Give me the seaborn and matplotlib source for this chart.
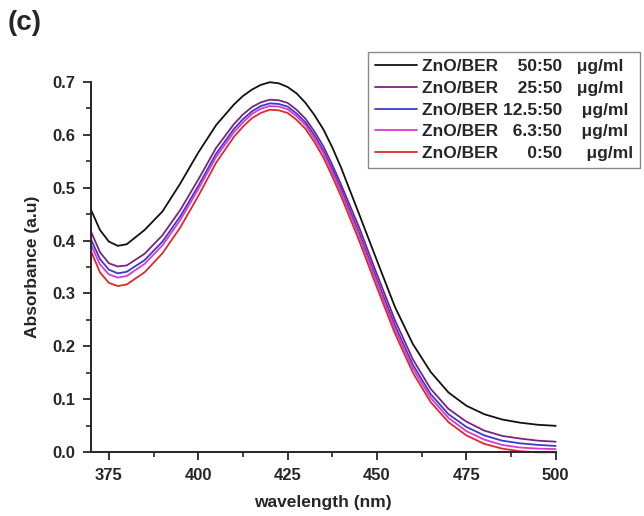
import matplotlib
matplotlib.use("Agg")
import matplotlib.pyplot as plt
import seaborn as sns
import pandas as pd
from matplotlib.ticker import MultipleLocator

wavelength = [370, 372.5, 375, 377.5, 380, 385, 390, 395, 400, 405, 410, 412.5, 415, 417.5,
              420, 422.5, 425, 427.5, 430, 432.5, 435, 437.5, 440, 445, 450, 455, 460, 465,
              470, 475, 480, 485, 490, 495, 500]

abs_50 = [0.458, 0.420, 0.398, 0.390, 0.393, 0.420, 0.455, 0.508, 0.566, 0.618, 0.657, 0.673,
          0.685, 0.694, 0.699, 0.697, 0.690, 0.678, 0.660, 0.637, 0.610, 0.576, 0.537, 0.450,
          0.362, 0.275, 0.205, 0.152, 0.113, 0.088, 0.072, 0.062, 0.056, 0.052, 0.050]
abs_25 = [0.417, 0.378, 0.357, 0.351, 0.353, 0.375, 0.410, 0.458, 0.515, 0.575, 0.620, 0.638,
          0.652, 0.661, 0.666, 0.665, 0.660, 0.647, 0.630, 0.606, 0.578, 0.543, 0.505, 0.425,
          0.336, 0.250, 0.176, 0.120, 0.082, 0.058, 0.041, 0.031, 0.026, 0.022, 0.020]
abs_125 = [0.402, 0.365, 0.345, 0.338, 0.341, 0.363, 0.398, 0.446, 0.503, 0.564, 0.611, 0.629,
           0.644, 0.654, 0.659, 0.658, 0.653, 0.640, 0.623, 0.599, 0.570, 0.535, 0.497, 0.415,
           0.326, 0.240, 0.166, 0.110, 0.072, 0.048, 0.032, 0.022, 0.017, 0.014, 0.012]
abs_63 = [0.392, 0.355, 0.336, 0.330, 0.333, 0.356, 0.391, 0.439, 0.497, 0.558, 0.605, 0.623,
          0.639, 0.649, 0.654, 0.653, 0.648, 0.635, 0.618, 0.593, 0.565, 0.529, 0.491, 0.409,
          0.320, 0.233, 0.159, 0.103, 0.065, 0.040, 0.024, 0.014, 0.009, 0.007, 0.006]
abs_0 = [0.380, 0.340, 0.320, 0.314, 0.317, 0.340, 0.376, 0.425, 0.484, 0.547, 0.596, 0.615,
         0.631, 0.641, 0.647, 0.646, 0.641, 0.628, 0.611, 0.586, 0.557, 0.521, 0.483, 0.400,
         0.311, 0.225, 0.151, 0.095, 0.057, 0.032, 0.016, 0.007, 0.002, 0.000, 0.000]

labels = ["ZnO/BER    50:50   \u03bcg/ml",
          "ZnO/BER    25:50   \u03bcg/ml",
          "ZnO/BER 12.5:50    \u03bcg/ml",
          "ZnO/BER   6.3:50    \u03bcg/ml",
          "ZnO/BER      0:50     \u03bcg/ml"]
series = [abs_50, abs_25, abs_125, abs_63, abs_0]
colors = ["#111111", "#7a2480", "#3a3ad0", "#d63ad6", "#e02828"]

x_ticks = [375, 400, 425, 450, 475, 500]
y_ticks = [0.0, 0.1, 0.2, 0.3, 0.4, 0.5, 0.6, 0.7]

rows = []
for lab, vals in zip(labels, series):
    for w, a in zip(wavelength, vals):
        rows.append({"wavelength": w, "absorbance": a, "sample": lab})
df = pd.DataFrame(rows)

sns.set_style("ticks")
plt.rcParams["font.family"] = ["Liberation Sans", "DejaVu Sans"]
plt.rcParams["font.weight"] = "bold"

fig = plt.figure(figsize=(6.44, 5.16), dpi=100)
ax = fig.add_axes([91 / 644, 1 - 452.3 / 516, (555.7 - 91) / 644, (452.3 - 81.7) / 516])

sns.lineplot(data=df, x="wavelength", y="absorbance", hue="sample", hue_order=labels,
             palette=colors, linewidth=1.3, sort=False, ax=ax, legend=True)
for ln in ax.get_lines():
    ln.set_clip_on(False)
    ln.set_solid_joinstyle("round")

handles, labs = ax.get_legend_handles_labels()
ax.get_legend().remove()

ax.set_xlim(370, 500)
ax.set_ylim(0, 0.7)
ax.set_xticks(x_ticks)
ax.set_yticks(y_ticks)
ax.set_yticklabels([f"{v:.1f}" for v in y_ticks])
ax.xaxis.set_minor_locator(MultipleLocator(12.5))
ax.yaxis.set_minor_locator(MultipleLocator(0.05))
ax.tick_params(which="major", direction="out", length=6, width=1.3, labelsize=12, pad=5)
ax.tick_params(which="minor", direction="out", length=3.5, width=1.2)
for lab in ax.get_xticklabels() + ax.get_yticklabels():
    lab.set_fontweight("bold")
sns.despine(ax=ax)
for s in ["left", "bottom"]:
    ax.spines[s].set_linewidth(1.4)

ax.set_xlabel("wavelength (nm)", fontsize=12.5, fontweight="bold", labelpad=9)
ax.set_ylabel("Absorbance (a.u)", fontsize=12.5, fontweight="bold", labelpad=9)

leg = fig.legend(handles, labs, loc="upper right",
                 bbox_to_anchor=(640 / 644, 1 - 52 / 516), borderaxespad=0,
                 prop={"size": 12.5, "weight": "bold"}, handlelength=2.4,
                 handletextpad=0.3, labelspacing=0.38, fancybox=False,
                 framealpha=1, edgecolor="#888888", borderpad=0.4)
leg.get_frame().set_linewidth(1.0)
for h in leg.get_lines():
    h.set_linewidth(1.3)

fig.text(8 / 644, 1 - 10 / 516, "(c)", fontsize=20, fontweight="bold", ha="left", va="top")

fig.savefig("out.png", dpi=100)
